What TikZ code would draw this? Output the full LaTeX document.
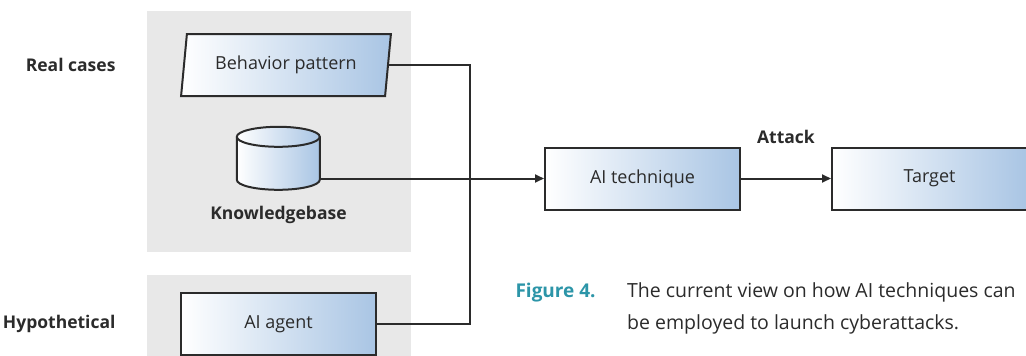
\documentclass[tikz,border=0pt]{standalone}
\usepackage{fontspec}
\setmainfont{Open Sans}
\usetikzlibrary{positioning,shapes.geometric,arrows.meta}

\definecolor{panel}{HTML}{E8E8E8}
\definecolor{boxblue}{HTML}{A9C5E4}
\definecolor{ink}{HTML}{2B2B2B}
\definecolor{figteal}{HTML}{2C95A8}

\tikzset{
  block/.style={draw=ink, line width=2pt, left color=white, right color=boxblue,
    minimum height=62pt, inner sep=0pt, text=ink, font=\fontsize{18}{21}\selectfont},
  side/.style={text=ink, font=\bfseries\fontsize{17.5}{20}\selectfont},
  wire/.style={draw=ink, line width=2pt},
  feed/.style={wire, -{Triangle[length=9pt,width=8pt]}}
}

\begin{document}
\begin{tikzpicture}[x=1pt, y=-1pt]
    \useasboundingbox (0,0) rectangle (1026,356);
    % grey groups
    \fill[panel] (147,11) rectangle (411,252);
    \fill[panel] (147,275) rectangle (411,356);

    \node[block, trapezium, trapezium left angle=77, trapezium right angle=103,
      trapezium stretches=true, minimum width=210pt] (pattern) at (286,65) {Behavior pattern};
    \node[minimum width=83pt, minimum height=63pt, inner sep=0pt] (kb) at (278.5,158.5) {};
    % drum for the knowledge base
    \shade[left color=white, right color=boxblue, draw=ink, line width=2pt]
      (kb.north west) ++(0,10) -- ++(0,43)
      arc[start angle=180, end angle=0, x radius=41.5, y radius=10] -- ++(0,-43)
      arc[start angle=0, end angle=-180, x radius=41.5, y radius=10] -- cycle;
    \draw[ink, line width=2pt] (kb.north west) ++(0,10)
      arc[start angle=180, end angle=0, x radius=41.5, y radius=10];
    \node[side, below=12pt of kb] (kbname) {Knowledgebase};
    \node[block, minimum width=195pt] (agent) at (278.5,324) {AI agent};

    \node[side, anchor=east] (real) at (119,65) {Real cases};
    \node[side, anchor=east] (hypo) at (119,324) {Hypothetical};

    \node[block, minimum width=195pt] (tech) at (642.5,178.5) {AI technique};
    \node[block, minimum width=195pt, right=90pt of tech] (target) {Target};

    \coordinate (bus) at (470,178.5);
    \draw[wire] (pattern.east) -- (pattern.east -| bus) -- (agent.east -| bus) -- (agent.east);
    \draw[feed] (kb.east |- tech.west) -- (tech.west);
    \draw[feed] (tech) -- node[side, midway, yshift=41.5pt] (attack) {Attack} (target);

    \node[anchor=west, text=figteal, font=\bfseries\fontsize{19}{22}\selectfont] (fignum) at (512,293) {Figure 4.};
    \node[anchor=north west, align=left, inner sep=0pt, text=ink, font=\fontsize{19.5}{32}\selectfont]
      (caption) at (627,282) {The current view on how AI techniques can\\be employed to launch cyberattacks.};
\end{tikzpicture}
\end{document}
